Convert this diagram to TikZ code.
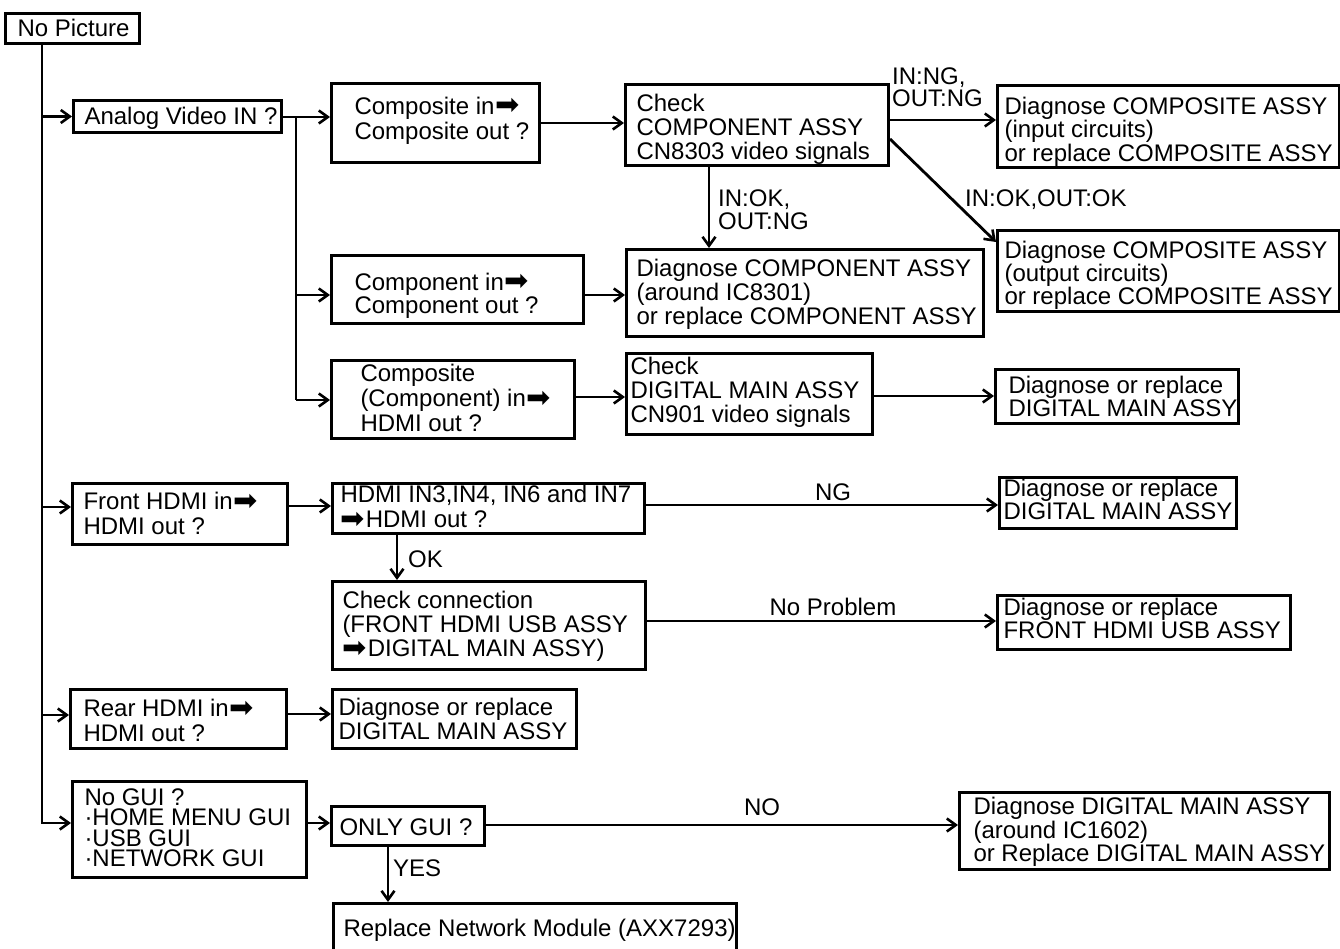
\documentclass[tikz,border=0pt]{standalone}
\usepackage{fontspec}
\setmainfont{Liberation Sans}
\newfontfamily\djv{DejaVu Sans}
\usetikzlibrary{arrows.meta}
\newcommand\ra{\raisebox{-0.5pt}{\djv\fontsize{29}{29}\selectfont\symbol{"27A1}}}
\newcommand\stk[1]{\vtop{\lineskiplimit=-\maxdimen\lineskip=0pt\def\\{\cr}\halign{##\hfil\cr#1\crcr}}}
\tikzset{
  box/.style={draw, line width=3pt, anchor=north west, inner sep=0pt, font=\fontsize{24}{24}\selectfont},
  lsk/.style={font=\fontsize{24}{#1}\selectfont},
  lbl/.style={inner sep=0pt, anchor=base west, font=\fontsize{24}{23}\selectfont},
  conn/.style={line width=2.8pt},
  arr/.style={conn, -{Straight Barb[length=9pt,width=13pt,line width=2.6pt]}}
}
% #1 options, #2 name, #3 x1, #4 y1, #5 x2, #6 y2, #7 text x, #8 first baseline y, #9 lines
\newcommand\bx[9][]{%
  \pgfmathsetmacro\bw{#5-#3}\pgfmathsetmacro\bh{#6-#4}%
  \pgfmathsetmacro\bp{#7-#3}\pgfmathsetmacro\bb{#6-#8}%
  \node[box,#1,minimum width=\bw pt,minimum height=\bh pt] (#2) at (#3,#4)
   {\makebox[\bw pt][l]{\hspace*{\bp pt}\raisebox{\bb pt}[\bh pt][0pt]{\stk{#9}}}};}
\newcommand\lb[5][]{\node[lbl,#1] (#2) at (#3,#4) {\stk{#5}};}
\begin{document}
\begin{tikzpicture}[x=1pt,y=-1pt]
\useasboundingbox (0,0) rectangle (1340,949);
% boxes
\bx{np}{4}{12}{138}{42}{16}{35}{No Picture}
\bx{analog}{72}{99}{280}{131}{83}{123}{Analog Video IN ?}
\bx[lsk=25]{comp1}{330}{82}{538}{161}{353}{113}{Composite in\kern1pt\ra\\Composite out ?}
\bx[lsk=24]{check1}{624}{83}{887}{164}{635}{110}{Check\\COMPONENT ASSY\\CN8303 video signals}
\bx[lsk=23.5]{diagIn}{996}{84}{1338}{166}{1003}{113}{Diagnose COMPOSITE ASSY\\(input circuits)\\or replace COMPOSITE ASSY}
\bx[lsk=23]{diagOut}{996}{229}{1338}{310}{1003}{257}{Diagnose COMPOSITE ASSY\\(output circuits)\\or replace COMPOSITE ASSY}
\bx[lsk=23]{cin}{330}{254}{582}{322}{353}{289}{Component in\kern1pt\ra\\Component out ?}
\bx[lsk=24]{diagComp}{625}{248}{982}{335}{635}{275}{Diagnose COMPONENT ASSY\\(around IC8301)\\or replace COMPONENT ASSY}
\bx[lsk=25]{chdmi}{330}{359}{573}{437}{359}{380}{Composite\\(Component) in\kern1pt\ra\\HDMI out ?}
\bx[lsk=24]{check2}{625}{352}{871}{433}{629}{373}{Check\\DIGITAL MAIN ASSY\\CN901 video signals}
\bx[lsk=23]{diag2}{994}{368}{1237}{422}{1007}{392}{Diagnose or replace\\DIGITAL MAIN ASSY}
\bx[lsk=25]{front}{71}{482}{286}{543}{82}{508}{Front HDMI in\kern1pt\ra\\HDMI out ?}
\bx[lsk=25]{hdmi}{331}{482}{643}{532}{339}{501}{HDMI IN3,IN4, IN6 and IN7\\\ra\kern1pt HDMI out ?}
\bx[lsk=23]{dfront1}{998}{476}{1235}{527}{1002}{495}{Diagnose or replace\\DIGITAL MAIN ASSY}
\bx[lsk=24]{chk}{331}{580}{644}{668}{341}{607}{Check connection\\(FRONT HDMI USB ASSY\\\ra\kern1pt DIGITAL MAIN ASSY)}
\bx[lsk=23]{dfront2}{996}{594}{1289}{648}{1002}{614}{Diagnose or replace\\FRONT HDMI USB ASSY}
\bx[lsk=25]{rear}{69}{688}{285}{747}{82}{715}{Rear HDMI in\kern1pt\ra\\HDMI out ?}
\bx[lsk=24]{drear}{331}{688}{575}{747}{337}{714}{Diagnose or replace\\DIGITAL MAIN ASSY}
\bx[lsk=20.3]{nogui}{71}{780}{305}{876}{83}{804}{No GUI ?\\·HOME MENU GUI\\·USB GUI\\·NETWORK GUI}
\bx{only}{330}{805}{483}{844}{338}{834}{ONLY GUI ?}
\bx[lsk=23.5]{dgui}{958}{791}{1328}{868}{972}{813}{Diagnose DIGITAL MAIN ASSY\\(around IC1602)\\or Replace DIGITAL MAIN ASSY}
\bx{repl}{332}{902}{735}{965}{342}{935}{Replace Network Module (AXX7293)}
% labels
\lb[font=\fontsize{24}{22}\selectfont]{l1}{892}{85}{IN:NG,\\OUT:NG}
\lb{l2}{718}{207}{IN:OK,\\OUT:NG}
\lb{l3}{965}{207}{IN:OK,OUT:OK}
\lb[anchor=base]{l4}{833}{500}{NG}
\lb{l5}{408}{567}{OK}
\lb[anchor=base]{l6}{833}{615}{No Problem}
\lb[anchor=base]{l7}{762}{815}{NO}
\lb{l8}{393}{876}{YES}
% connectors
\coordinate (tx) at (42,0);
\coordinate (bx) at (296,0);
\draw[arr] (np.south -| tx) |- (nogui.west |- 0,823);
\draw[arr] (tx |- analog.west) -- (analog.west);
\draw[arr] (tx |- 0,507) -- (front.west |- 0,507);
\draw[arr] (tx |- 0,715) -- (rear.west |- 0,715);
\draw[arr] (analog.east |- 0,117) -- (comp1.west |- 0,117);
\draw[conn] (bx |- 0,117) -- (bx |- 0,400);
\draw[arr] (bx |- 0,295) -- (cin.west |- 0,295);
\draw[arr] (bx |- 0,400) -- (chdmi.west |- 0,400);
\draw[arr] (comp1.east |- 0,123) -- (check1.west |- 0,123);
\draw[arr] (check1.east |- 0,120) -- (diagIn.west |- 0,120);
\draw[arr] (check1.east |- 0,139) -- (diagOut.west |- 0,242);
\draw[arr] (check1.south -| 709,0) -- (diagComp.north -| 709,0);
\draw[arr] (cin.east |- 0,295) -- (diagComp.west |- 0,295);
\draw[arr] (chdmi.east |- 0,397) -- (check2.west |- 0,397);
\draw[arr] (check2.east |- 0,396) -- (diag2.west |- 0,396);
\draw[arr] (front.east |- 0,506) -- (hdmi.west |- 0,506);
\draw[arr] (hdmi.east |- 0,505) -- (dfront1.west |- 0,505);
\draw[arr] (hdmi.south -| 397,0) -- (chk.north -| 397,0);
\draw[arr] (chk.east |- 0,621) -- (dfront2.west |- 0,621);
\draw[arr] (rear.east |- 0,714) -- (drear.west |- 0,714);
\draw[arr] (nogui.east |- 0,823) -- (only.west |- 0,823);
\draw[arr] (only.east |- 0,825) -- (dgui.west |- 0,825);
\draw[arr] (only.south -| 388,0) -- (repl.north -| 388,0);
\end{tikzpicture}
\end{document}
